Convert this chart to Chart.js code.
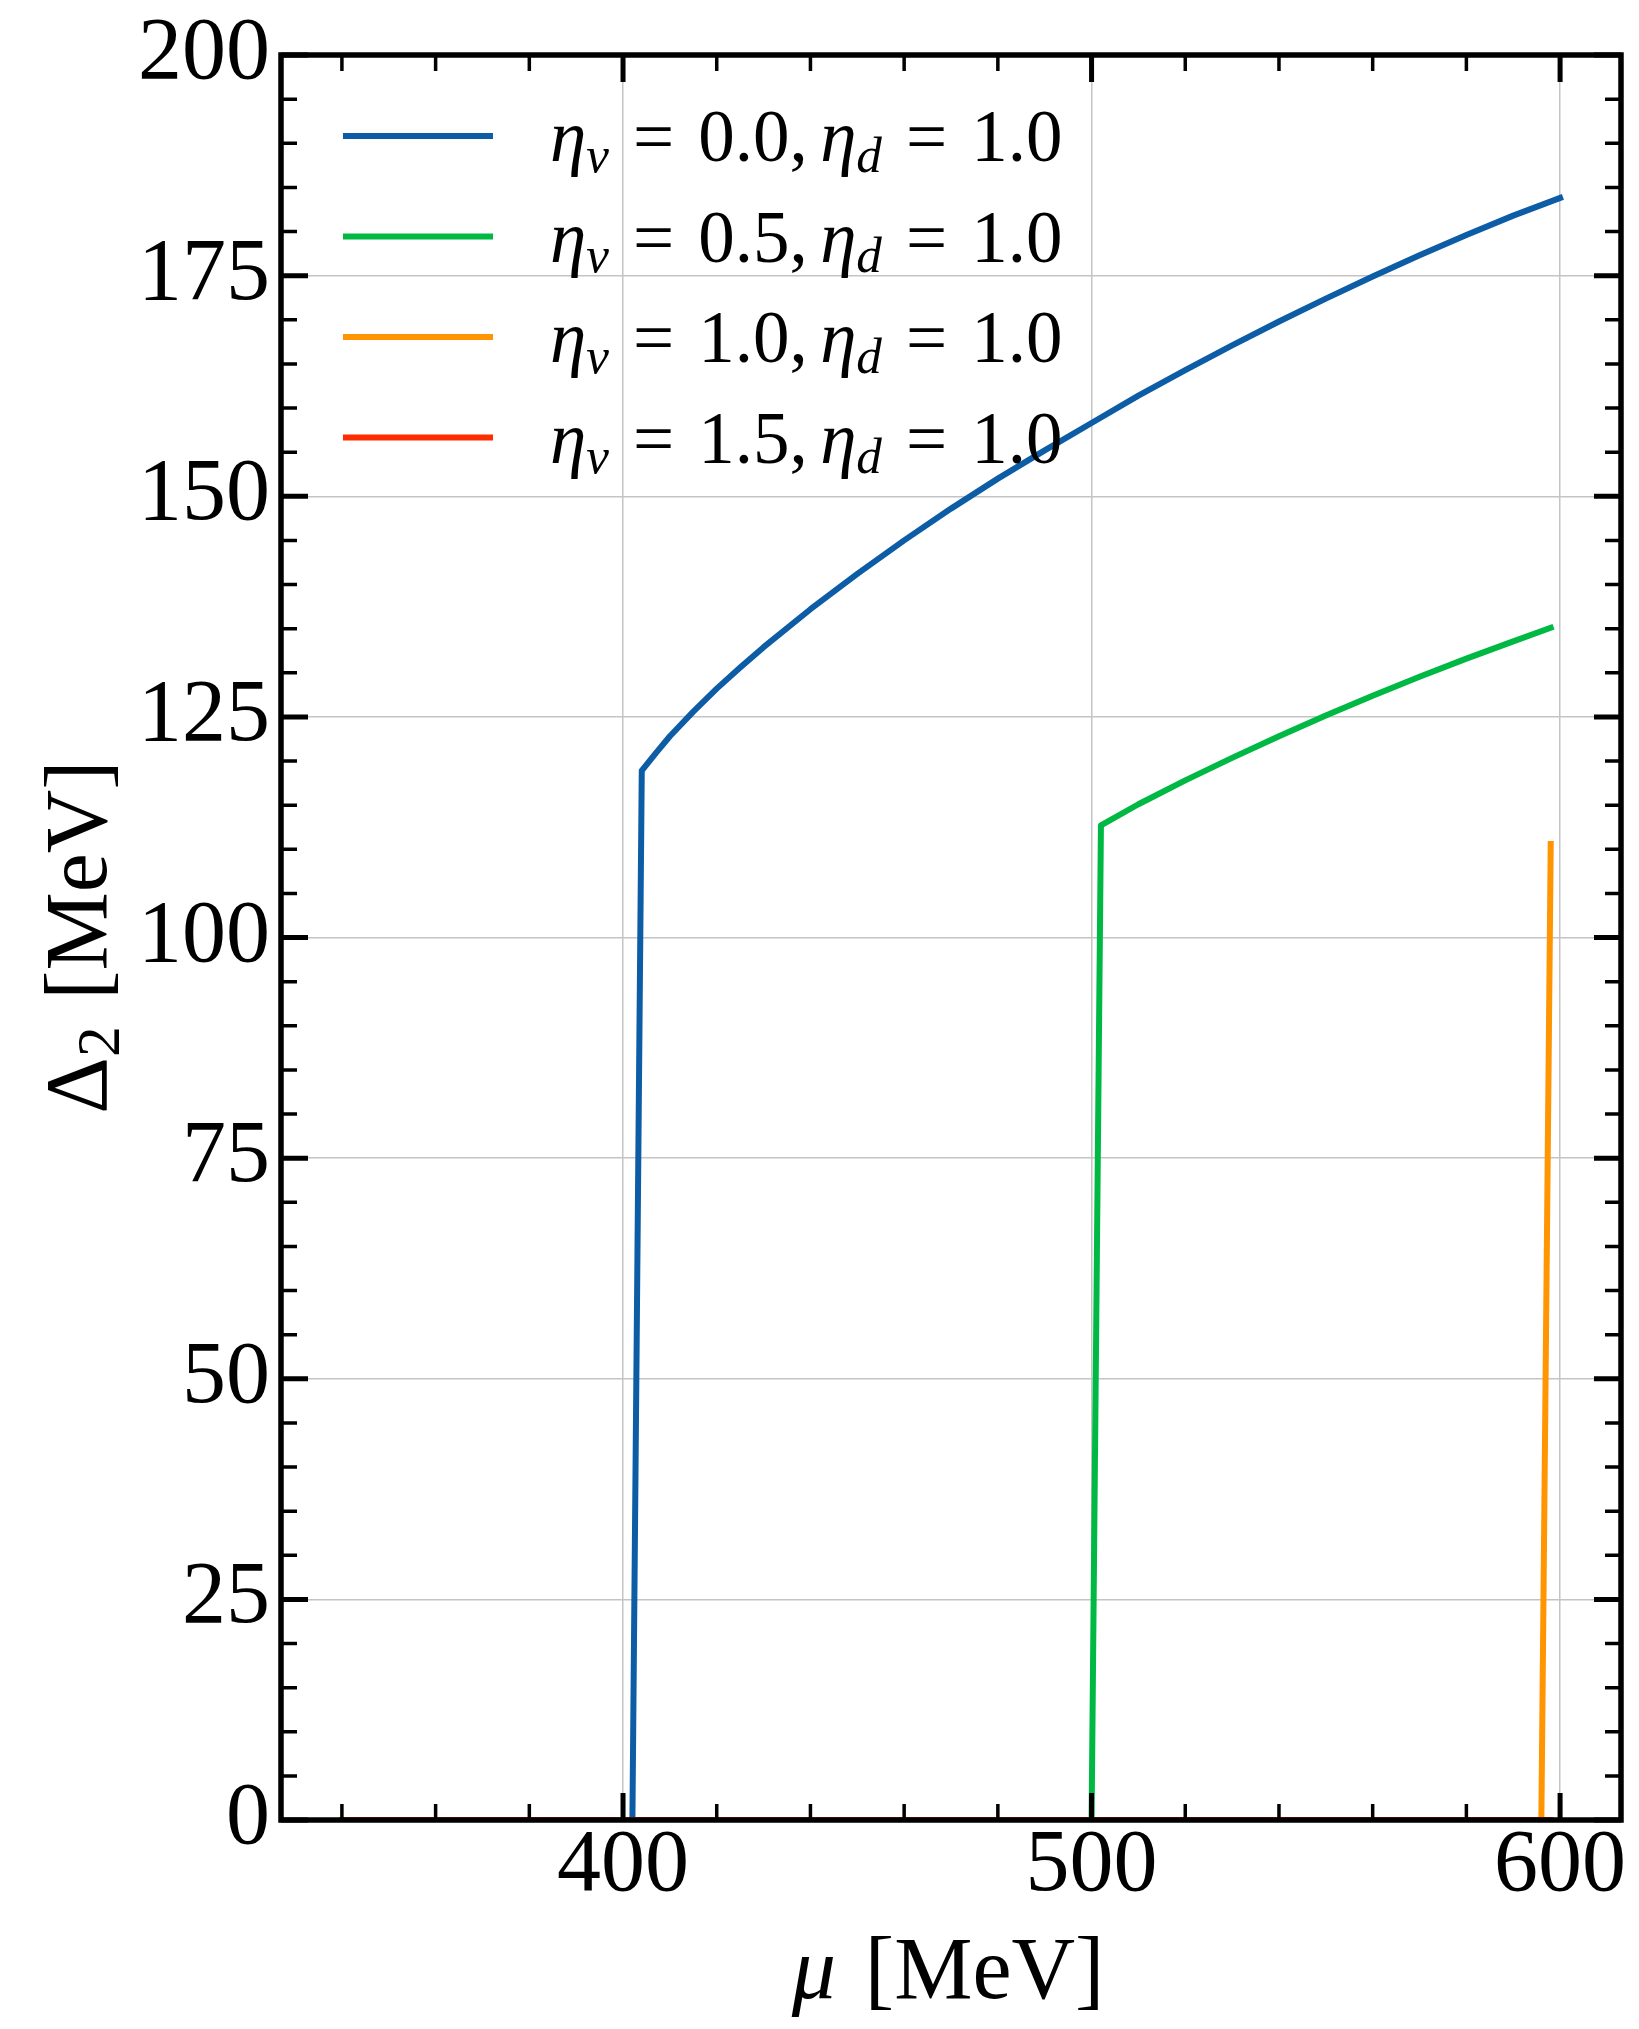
<!DOCTYPE html>
<html>
<head>
<meta charset="utf-8">
<script src="https://cdn.jsdelivr.net/npm/chart.js@4.4.1/dist/chart.umd.min.js"></script>
<style>
  html, body { margin: 0; padding: 0; background: #fff; }
  canvas { display: block; }
</style>
</head>
<body>
<canvas id="chart" width="1639" height="2029"></canvas>
<script>
// Delta_2 [MeV] against mu [MeV]
const blueMu    = [340, 402, 404, 407, 410, 415, 420, 425, 430, 440, 450, 460, 470, 480, 490, 500, 510, 520, 530, 540, 550, 560, 570, 580, 590, 600];
const blueDelta = [0, 0, 118.9, 120.9, 122.8, 125.6, 128.2, 130.6, 132.9, 137.2, 141.2, 145.0, 148.6, 152.0, 155.2, 158.3, 161.4, 164.3, 167.1, 169.8, 172.4, 174.9, 177.3, 179.6, 181.8, 183.8];
const greenMu    = [340, 500, 502, 510, 520, 530, 540, 550, 560, 570, 580, 590, 598];
const greenDelta = [0, 0, 112.7, 115.1, 117.8, 120.35, 122.8, 125.15, 127.4, 129.55, 131.6, 133.55, 135.1];
const orangeMu    = [340, 596, 598];
const orangeDelta = [0, 0, 110.6];
const redMu    = [340, 598];
const redDelta = [0, 0];

// legend parameters
const etaV = ['0.0', '0.5', '1.0', '1.5'];
const etaD = ['1.0', '1.0', '1.0', '1.0'];
const colors = ['#0C5DA5', '#00B945', '#FF9500', '#FF2C00'];

// ticks
const xMajor = [400, 500, 600];
const xMinor = [340, 360, 380, 420, 440, 460, 480, 520, 540, 560, 580];
const yMajor = [0, 25, 50, 75, 100, 125, 150, 175, 200];
const yMinorStep = 5;

const series = [
  {mu: blueMu, delta: blueDelta},
  {mu: greenMu, delta: greenDelta},
  {mu: orangeMu, delta: orangeDelta},
  {mu: redMu, delta: redDelta}
];

const FONT = '"Liberation Serif", "DejaVu Serif", serif';

// draw a run of text pieces (italic / subscript) one after another
function runs(ctx, x, y, parts, size, measureOnly) {
  let cx = x;
  parts.forEach(p => {
    const fs = p.sub ? size * 0.7 : size;
    ctx.font = (p.it ? 'italic ' : '') + fs + 'px ' + FONT;
    if (!measureOnly) ctx.fillText(p.t, cx, y + (p.sub ? size * 0.15 : 0));
    cx += ctx.measureText(p.t).width + (p.gap || 0) * size;
  });
  return cx - x;
}

const decorPlugin = {
  id: 'decor',
  afterDraw(chart) {
    const ctx = chart.ctx;
    const a = chart.chartArea;
    const xs = chart.scales.x, ys = chart.scales.y;
    ctx.save();
    ctx.strokeStyle = '#000';
    ctx.fillStyle = '#000';

    // inward ticks on all four sides
    const tick = (len, w, vals, scale, horiz) => {
      ctx.lineWidth = w;
      ctx.lineCap = 'butt';
      vals.forEach(v => {
        const p = scale.getPixelForValue(v);
        ctx.beginPath();
        if (horiz) {
          ctx.moveTo(p, a.bottom); ctx.lineTo(p, a.bottom - len);
          ctx.moveTo(p, a.top); ctx.lineTo(p, a.top + len);
        } else {
          ctx.moveTo(a.left, p); ctx.lineTo(a.left + len, p);
          ctx.moveTo(a.right, p); ctx.lineTo(a.right - len, p);
        }
        ctx.stroke();
      });
    };
    const yMinor = [];
    for (let v = 0; v <= 200; v += yMinorStep) if (!yMajor.includes(v)) yMinor.push(v);
    tick(16, 3.5, xMinor, xs, true);
    tick(27, 5, xMajor, xs, true);
    tick(16, 3.5, yMinor, ys, false);
    tick(27, 5, yMajor, ys, false);

    // frame
    ctx.lineWidth = 5.5;
    ctx.lineJoin = 'miter';
    ctx.strokeRect(a.left, a.top, a.right - a.left, a.bottom - a.top);

    // legend
    const rowY0 = 136, rowStep = 100.5;
    chart.data.datasets.forEach((ds, i) => {
      const y = rowY0 + i * rowStep;
      ctx.strokeStyle = ds.borderColor;
      ctx.lineWidth = 6;
      ctx.beginPath();
      ctx.moveTo(343, y);
      ctx.lineTo(493, y);
      ctx.stroke();
      ctx.textBaseline = 'alphabetic';
      ctx.textAlign = 'left';
      runs(ctx, 550, y + 25, [
        {t: 'η', it: true}, {t: 'v', it: true, sub: true, gap: 0.33},
        {t: '=', gap: 0.33}, {t: etaV[i] + ',', gap: 0.17},
        {t: 'η', it: true}, {t: 'd', it: true, sub: true, gap: 0.33},
        {t: '=', gap: 0.33}, {t: etaD[i]}
      ], 73);
    });

    // axis titles
    ctx.fillStyle = '#000';
    ctx.textAlign = 'left';
    ctx.textBaseline = 'alphabetic';
    const xParts = [{t: 'μ', it: true, gap: 0.33}, {t: '[MeV]'}];
    const xw = runs(ctx, 0, 0, xParts, 88, true);
    runs(ctx, 948 - xw / 2, 1998, xParts, 88);

    const yParts = [{t: 'Δ'}, {t: '2', sub: true, gap: 0.3}, {t: '[MeV]'}];
    const yw = runs(ctx, 0, 0, yParts, 88, true);
    ctx.translate(106, 937);
    ctx.rotate(-Math.PI / 2);
    runs(ctx, -yw / 2, 0, yParts, 88);
    ctx.restore();
  }
};

new Chart(document.getElementById('chart'), {
  type: 'line',
  data: {
    datasets: series.map((s, i) => ({
      label: 'η_v = ' + etaV[i] + ', η_d = ' + etaD[i],
      data: s.mu.map((m, k) => ({x: m, y: s.delta[k]})),
      borderColor: colors[i],
      backgroundColor: colors[i],
      borderWidth: 6,
      borderCapStyle: 'square',
      borderJoinStyle: 'round',
      pointRadius: 0,
      tension: 0,
      fill: false,
      order: series.length - 1 - i
    }))
  },
  options: {
    responsive: false,
    animation: false,
    devicePixelRatio: 1,
    layout: {padding: {left: 0, right: 18, top: 45, bottom: 0}},
    plugins: {
      legend: {display: false},
      tooltip: {enabled: false}
    },
    scales: {
      x: {
        type: 'linear',
        min: 327,
        max: 613,
        afterBuildTicks: s => { s.ticks = xMajor.map(v => ({value: v})); },
        afterFit: s => { s.height = 209; },
        grid: {color: '#c4c4c4', lineWidth: 1.5, drawTicks: false},
        border: {display: false},
        ticks: {
          font: {family: FONT, size: 88, lineHeight: 1},
          color: '#000',
          padding: 3,
          maxRotation: 0,
          autoSkip: false
        }
      },
      y: {
        type: 'linear',
        min: 0,
        max: 200,
        afterBuildTicks: s => { s.ticks = yMajor.map(v => ({value: v})); },
        afterFit: s => { s.width = 281; },
        grid: {color: '#c4c4c4', lineWidth: 1.5, drawTicks: false},
        border: {display: false},
        ticks: {
          font: {family: FONT, size: 88, lineHeight: 1},
          color: '#000',
          padding: 11,
          autoSkip: false
        }
      }
    }
  },
  plugins: [decorPlugin]
});
</script>
</body>
</html>
